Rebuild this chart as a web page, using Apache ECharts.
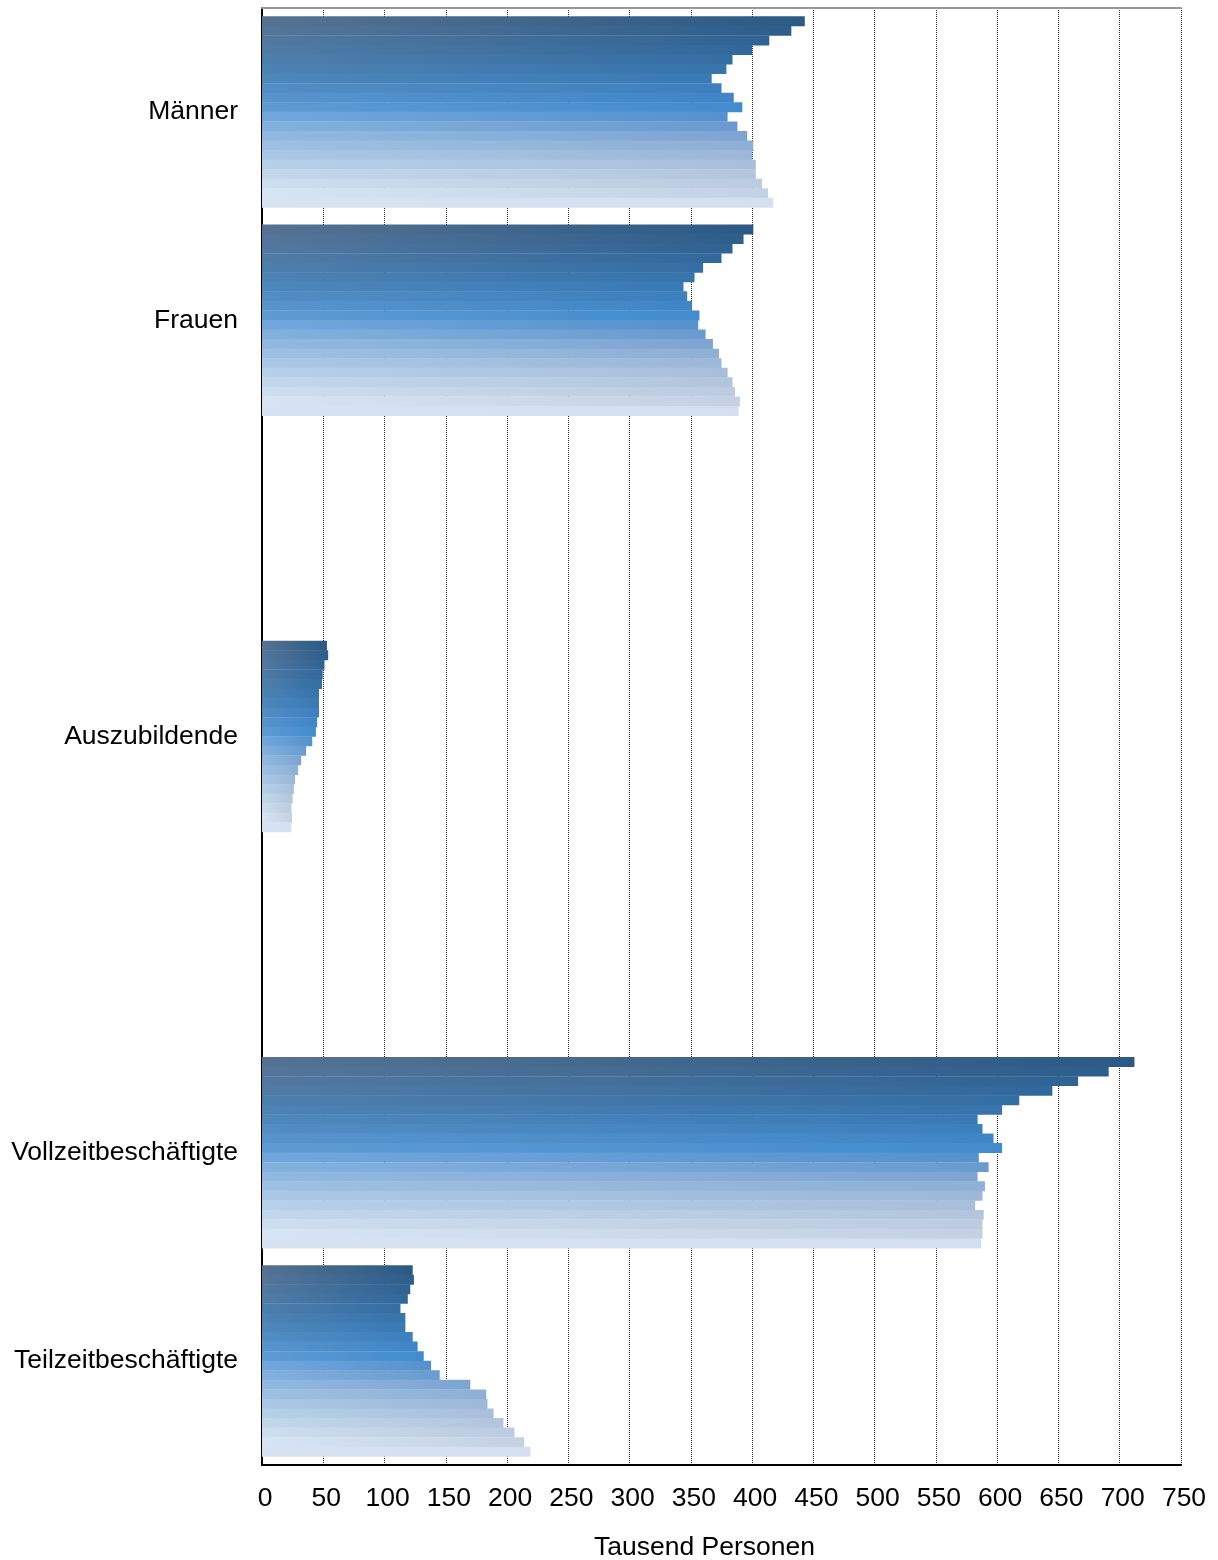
<!DOCTYPE html>
<html>
<head>
<meta charset="utf-8">
<script src="https://cdn.jsdelivr.net/npm/echarts@6/dist/echarts.min.js"></script>
<style>
html,body{margin:0;padding:0;background:#fff;}
#chart{width:1218px;height:1560px;}
</style>
</head>
<body>
<div id="chart"></div>
<script>
// Categories (blank slots separate the groups)
const categories = ['Männer', 'Frauen', '', 'Auszubildende', ' ', 'Vollzeitbeschäftigte', 'Teilzeitbeschäftigte'];
// Values per group, 20 bars each (top to bottom), Tausend Personen
const maenner  = [443, 432, 414, 400, 384, 379, 367, 375, 385, 392, 380, 388, 396, 401, 400, 403, 403, 408, 413, 417];
const frauen   = [401, 393, 384, 375, 360, 353, 344, 347, 351, 357, 356, 362, 368, 373, 375, 380, 384, 386, 390, 389];
const azubi    = [53, 54, 51, 49.5, 49, 46.5, 46.5, 46.5, 45, 44, 41, 36, 32, 29.5, 27, 26, 25, 24, 24.5, 24];
const vollzeit = [712, 691, 666, 645, 618, 604, 584, 588, 597, 604, 585, 593, 584, 590, 588, 582, 589, 588, 588, 587];
const teilzeit = [123, 124, 121, 119, 113, 117, 117, 123, 127, 132, 138, 145, 170, 183, 184, 189, 197, 206, 214, 219];
const xTicks = [0, 50, 100, 150, 200, 250, 300, 350, 400, 450, 500, 550, 600, 650, 700, 750];

const leftColors = ['#567292','#547599','#52789f','#507ba5','#4e7eab','#4d82b2','#4e87ba','#528dc3','#5894cb','#5e9bd3',
                    '#72a7dc','#82b1de','#91b9e0','#9dc0e2','#aac8e6','#b6d0e9','#c2d7ec','#ccdeef','#d6e4f3','#d8e3f2'];
const rightColors = ['#2b5a85','#2d5e8c','#2f6393','#31689b','#336ea3','#3674ac','#397ab5','#3c80be','#3f86c7','#428cce',
                     '#5592cd','#6a9bcf','#7ea5d2','#8eafd6','#9cb7d8','#a8bfdb','#b2c5dd','#bccbdf','#c4d1e2','#d4e0ef'];

const FONT = "'Liberation Sans', Arial, sans-serif";
const FS = 26.5;
const series = maenner.map((_, i) => ({
  type: 'bar',
  name: 'Reihe ' + (i + 1),
  z: 5,
  barGap: '-4%',
  barCategoryGap: '8%',
  itemStyle: {
    borderWidth: 0,
    color: new echarts.graphic.LinearGradient(0, 0, 1, 0, [
      { offset: 0, color: leftColors[i] },
      { offset: 1, color: rightColors[i] }
    ])
  },
  data: [maenner[i], frauen[i], null, azubi[i], null, vollzeit[i], teilzeit[i]]
}));

const chart = echarts.init(document.getElementById('chart'), null, { renderer: 'canvas' });
chart.setOption({
  animation: false,
  backgroundColor: '#fff',
  grid: { left: 262, right: 37, top: 8, bottom: 95, containLabel: false, outerBoundsMode: 'none' },
  xAxis: [{
    type: 'value',
    min: xTicks[0], max: xTicks[xTicks.length - 1], interval: 50,
    name: 'Tausend Personen',
    nameLocation: 'middle',
    nameGap: 69,
    nameTextStyle: { fontFamily: FONT, fontSize: FS, color: '#000', padding: [0, 34, 0, 0] },
    axisLine: { show: true, lineStyle: { color: '#000', width: 2 } },
    axisTick: { show: false },
    axisLabel: { fontFamily: FONT, fontSize: FS, color: '#000', margin: 20, padding: [0, 0, 0, 6] },
    splitLine: { show: true, lineStyle: { type: 'dotted', color: '#222', width: 1 } }
  }, {
    type: 'value', position: 'top',
    min: xTicks[0], max: xTicks[xTicks.length - 1], interval: 50,
    axisLine: { show: true, lineStyle: { color: '#999', width: 2 } },
    axisTick: { show: false }, axisLabel: { show: false }, splitLine: { show: false }
  }],
  yAxis: [{
    type: 'category',
    inverse: true,
    data: categories,
    axisLine: { show: true, lineStyle: { color: '#000', width: 2 } },
    axisTick: { show: false },
    axisLabel: { fontFamily: FONT, fontSize: FS, color: '#000', margin: 24, padding: [10, 0, 0, 0] }
  }, {
    type: 'category', position: 'right', inverse: true,
    data: categories,
    axisLine: { show: true, lineStyle: { color: '#000', width: 2 } },
    axisTick: { show: false }, axisLabel: { show: false }
  }],
  series: series
});
</script>
</body>
</html>
